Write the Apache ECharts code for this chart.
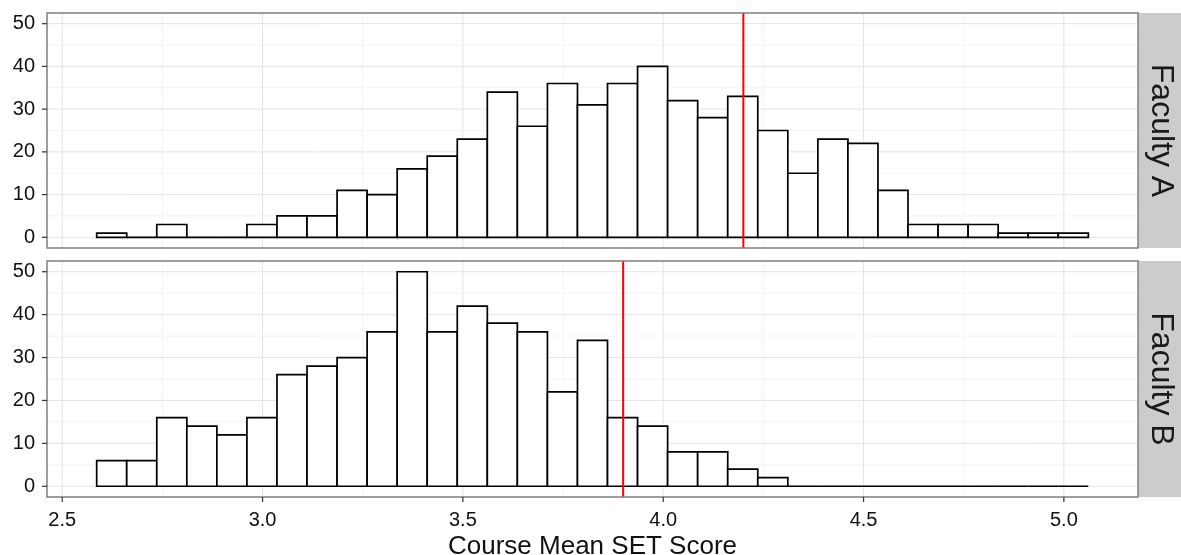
<!DOCTYPE html>
<html>
<head>
<meta charset="utf-8">
<title>Course Mean SET Score by Faculty</title>
<script src="https://cdn.jsdelivr.net/npm/echarts@6/dist/echarts.min.js"></script>
<style>
  html, body { margin: 0; padding: 0; background: #ffffff; }
  #chart { width: 1181px; height: 555px; }
</style>
</head>
<body>
<div id="chart"></div>
<script>
// Histogram bins: 33 bins of equal width
const binStart = 2.586;
const binWidth = 0.075;

// Counts per bin
const facultyA = [1, 0, 3, 0, 0, 3, 5, 5, 11, 10, 16, 19, 23, 34, 26, 36, 31, 36, 40, 32, 28, 33, 25, 15, 23, 22, 11, 3, 3, 3, 1, 1, 1];
const facultyB = [6, 6, 16, 14, 12, 16, 26, 28, 30, 36, 50, 36, 42, 38, 36, 22, 34, 16, 14, 8, 8, 4, 2, 0, 0, 0, 0, 0, 0, 0, 0, 0, 0];

// Faculty means (red reference lines)
const meanA = 4.2;
const meanB = 3.9;

// Facet labels
const facetLabels = ['Faculty A', 'Faculty B'];

// Axis ticks and grid lines
const xTicks = [2.5, 3.0, 3.5, 4.0, 4.5, 5.0];
const xMinor = [2.75, 3.25, 3.75, 4.25, 4.75];
const yTicks = [0, 10, 20, 30, 40, 50];
const yMinor = [5, 15, 25, 35, 45];

const xTitle = 'Course Mean SET Score';

const FONT = '"Liberation Sans", Arial, Helvetica, sans-serif';
const xMin = 2.462, xMax = 5.185;
const yMin = -2.5, yMax = 52.5;
const TICK_LEN = 5;
const TICK_COLOR = '#333333';

function binData(counts) {
  return counts.map((c, i) => [binStart + i * binWidth, binStart + (i + 1) * binWidth, c]);
}

// vertical lines across the panel at given x values
function vLines(idx, values, color, width, z) {
  return {
    type: 'custom', xAxisIndex: idx, yAxisIndex: idx, silent: true, z: z,
    data: values.map(v => [v, 0]),
    encode: { x: 0, y: 1 },
    renderItem: function (params, api) {
      const cs = params.coordSys;
      const x = api.coord([api.value(0), 0])[0];
      return { type: 'line', shape: { x1: x, y1: cs.y, x2: x, y2: cs.y + cs.height },
        style: { stroke: color, lineWidth: width } };
    }
  };
}

// horizontal lines across the panel at given y values
function hLines(idx, values, color, width, z) {
  return {
    type: 'custom', xAxisIndex: idx, yAxisIndex: idx, silent: true, z: z,
    data: values.map(v => [3, v]),
    encode: { x: 0, y: 1 },
    renderItem: function (params, api) {
      const cs = params.coordSys;
      const y = api.coord([3, api.value(1)])[1];
      return { type: 'line', shape: { x1: cs.x, y1: y, x2: cs.x + cs.width, y2: y },
        style: { stroke: color, lineWidth: width } };
    }
  };
}

// outward tick marks on the left edge
function yTickMarks(idx) {
  return {
    type: 'custom', xAxisIndex: idx, yAxisIndex: idx, silent: true, z: 30, clip: false,
    data: yTicks.map(v => [3, v]),
    encode: { x: 0, y: 1 },
    renderItem: function (params, api) {
      const cs = params.coordSys;
      const y = api.coord([3, api.value(1)])[1];
      return { type: 'line', shape: { x1: cs.x - TICK_LEN, y1: y, x2: cs.x, y2: y },
        style: { stroke: TICK_COLOR, lineWidth: 1.2 } };
    }
  };
}

// outward tick marks on the bottom edge
function xTickMarks(idx) {
  return {
    type: 'custom', xAxisIndex: idx, yAxisIndex: idx, silent: true, z: 30, clip: false,
    data: xTicks.map(v => [v, 0]),
    encode: { x: 0, y: 1 },
    renderItem: function (params, api) {
      const cs = params.coordSys;
      const x = api.coord([api.value(0), 0])[0];
      const yb = cs.y + cs.height;
      return { type: 'line', shape: { x1: x, y1: yb, x2: x, y2: yb + TICK_LEN },
        style: { stroke: TICK_COLOR, lineWidth: 1.2 } };
    }
  };
}

function bars(idx, counts) {
  return {
    type: 'custom', xAxisIndex: idx, yAxisIndex: idx, z: 5,
    data: binData(counts),
    encode: { x: [0, 1], y: 2 },
    renderItem: function (params, api) {
      const p0 = api.coord([api.value(0), api.value(2)]);
      const p1 = api.coord([api.value(1), 0]);
      return { type: 'rect',
        shape: { x: p0[0], y: p0[1], width: p1[0] - p0[0], height: p1[1] - p0[1] },
        style: { fill: '#ffffff', stroke: '#000000', lineWidth: 1.7 } };
    }
  };
}

const grids = [
  { left: 47, top: 13, width: 1091, height: 235 },
  { left: 47, top: 261, width: 1091, height: 236 }
];

function xAxis(idx, showLabels) {
  return {
    type: 'value', gridIndex: idx, min: xMin, max: xMax,
    axisLine: { show: false, onZero: false },
    splitLine: { show: false },
    axisTick: { show: false },
    axisLabel: { show: showLabels, customValues: xTicks, margin: 13, color: '#111111', fontSize: 20, fontFamily: FONT,
      formatter: v => v.toFixed(1) },
    name: showLabels ? xTitle : '',
    nameLocation: 'middle', nameGap: 37,
    nameTextStyle: { fontSize: 26, color: '#111111', fontFamily: FONT }
  };
}

function yAxis(idx) {
  return {
    type: 'value', gridIndex: idx, min: yMin, max: yMax,
    axisLine: { show: false, onZero: false },
    splitLine: { show: false },
    axisTick: { show: false },
    axisLabel: { customValues: yTicks, margin: 12, color: '#111111', fontSize: 20, fontFamily: FONT }
  };
}

const series = [];
[[facultyA, meanA], [facultyB, meanB]].forEach(([counts, mean], i) => {
  series.push(vLines(i, xMinor, '#f4f4f4', 1, 1));
  series.push(hLines(i, yMinor, '#f4f4f4', 1, 1));
  series.push(vLines(i, xTicks, '#e4e4e4', 1, 2));
  series.push(hLines(i, yTicks, '#e4e4e4', 1, 2));
  series.push(bars(i, counts));
  series.push(vLines(i, [mean], '#ff0000', 2, 8));
  series.push(yTickMarks(i));
});
series.push(xTickMarks(1));

const graphic = [];
grids.forEach((g, i) => {
  graphic.push({
    type: 'rect', left: 1138, top: g.top, z: 10,
    shape: { width: 43, height: g.height },
    style: { fill: '#cccccc' }
  });
  graphic.push({
    type: 'text', x: 1161, y: g.top + g.height / 2, rotation: -Math.PI / 2, z: 11,
    style: { text: facetLabels[i], fill: '#1a1a1a', font: '32px ' + FONT,
      align: 'center', verticalAlign: 'middle' }
  });
});

const chart = echarts.init(document.getElementById('chart'), null, { renderer: 'canvas' });
chart.setOption({
  animation: false,
  backgroundColor: '#ffffff',
  grid: grids.map(g => Object.assign({
    show: true, borderColor: '#7f7f7f', borderWidth: 1.5, backgroundColor: 'transparent', z: 20,
    containLabel: false, outerBoundsMode: 'none'
  }, g)),
  xAxis: [xAxis(0, false), xAxis(1, true)],
  yAxis: [yAxis(0), yAxis(1)],
  series: series,
  graphic: graphic
});
</script>
</body>
</html>
